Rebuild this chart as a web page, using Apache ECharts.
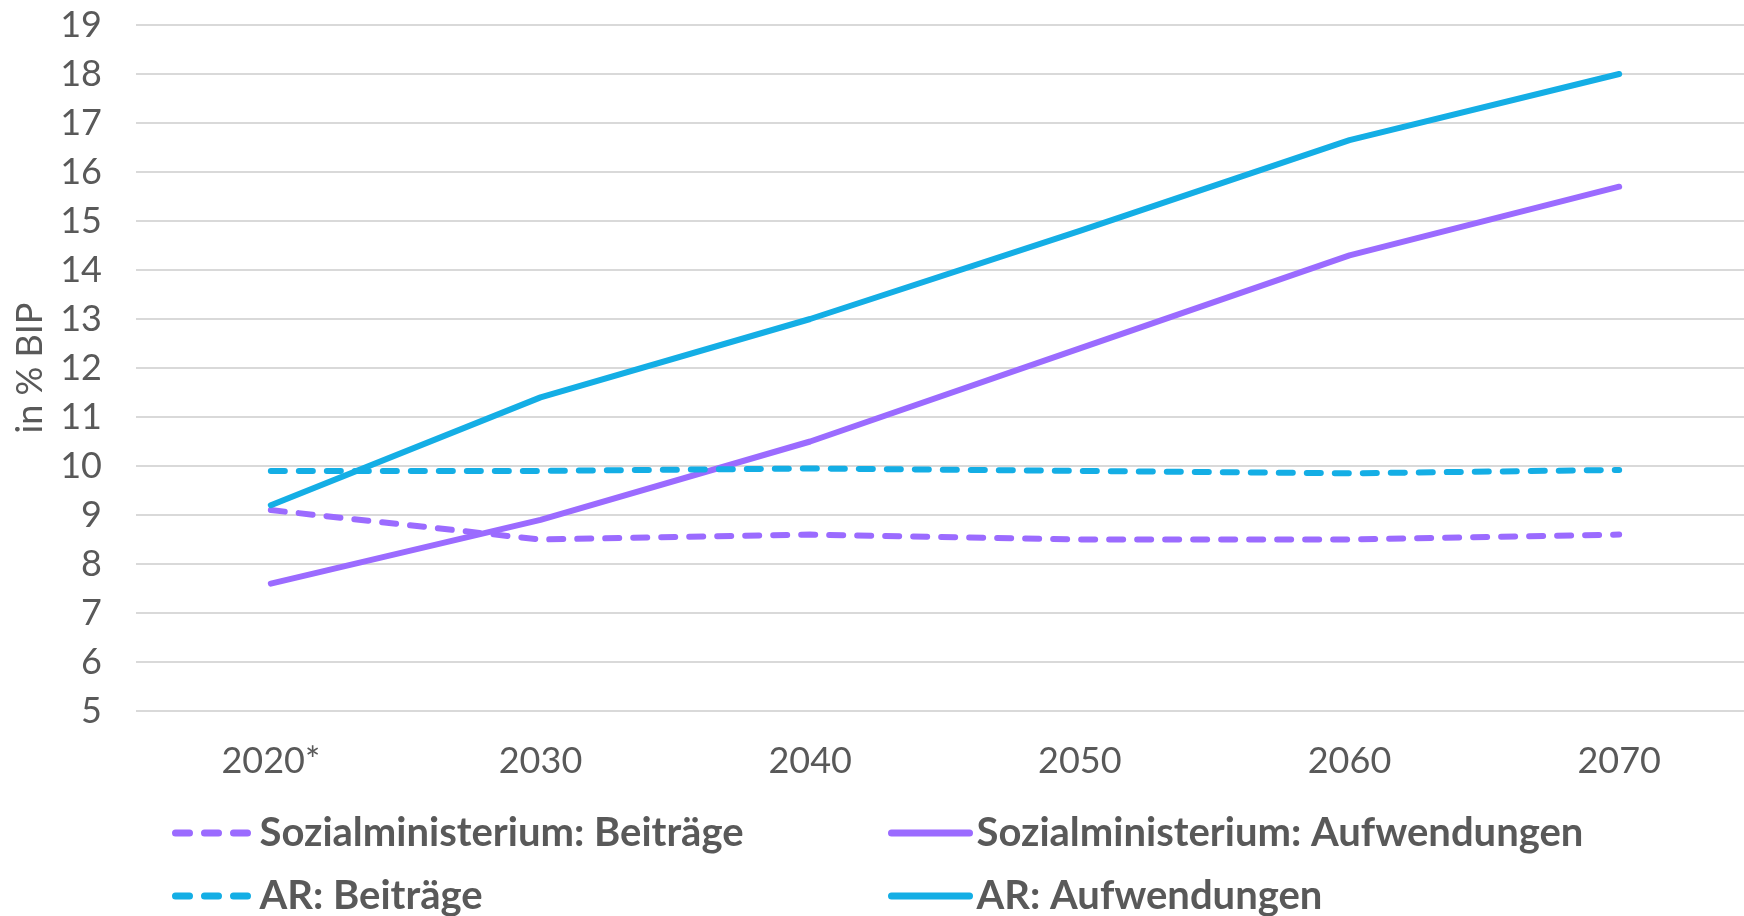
<!DOCTYPE html>
<html>
<head>
<meta charset="utf-8">
<script src="https://cdn.jsdelivr.net/npm/echarts@6/dist/echarts.min.js"></script>
<style>
  html, body { margin: 0; padding: 0; background: #ffffff; overflow: hidden; }
  /* the plot runs a little past the right edge of the page */
  #chart { width: 1754px; height: 916px; }
</style>
</head>
<body>
<div id="chart"></div>
<script>
// Beiträge und Aufwendungen in % des BIP, 2020–2070
const years = ['2020*', '2030', '2040', '2050', '2060', '2070'];
const sozBeitraege = [9.1, 8.5, 8.6, 8.5, 8.5, 8.6];
const sozAufwendungen = [7.6, 8.9, 10.5, 12.4, 14.3, 15.7];
const arBeitraege = [9.9, 9.9, 9.95, 9.9, 9.85, 9.92];
const arAufwendungen = [9.2, 11.4, 13.0, 14.8, 16.65, 18.0];

const PURPLE = '#9B6BFF';
const CYAN = '#14AEE5';
const TEXT = '#595959';
const FONT = 'Lato, "Open Sans", sans-serif';
const LINE_W = 6;
const DASH = [14, 14];
const LEGEND_DASH = [14, 15];

function lineSeries(name, data, color, dashed) {
  return {
    name: name,
    type: 'line',
    data: data,
    symbol: 'none',
    lineStyle: {
      color: color,
      width: LINE_W,
      type: dashed ? DASH : 'solid',
      cap: 'round',
      join: 'round'
    },
    itemStyle: { color: color }
  };
}

// one legend entry per box: two columns, two rows
function legendEntry(name, left, top, iconWidth, dashed, textPad) {
  return {
    left: left,
    top: top,
    padding: 0,
    itemWidth: iconWidth,
    itemHeight: 20,
    itemStyle: { opacity: 0 },
    textStyle: {
      color: TEXT,
      fontFamily: FONT,
      fontWeight: 'bold',
      fontSize: 40,
      lineHeight: 40,
      padding: [0, 0, 0, textPad]
    },
    data: [{
      name: name,
      lineStyle: dashed
        ? { type: LEGEND_DASH, width: 7, cap: 'round' }
        : { width: 7, cap: 'round' }
    }]
  };
}

const chart = echarts.init(document.getElementById('chart'), null, { renderer: 'canvas' });
chart.setOption({
  animation: false,
  backgroundColor: '#ffffff',
  grid: { left: 136, right: 0, top: 25, bottom: 205 },
  xAxis: {
    type: 'category',
    data: years,
    boundaryGap: true,
    axisLine: { show: false },
    axisTick: { show: false },
    axisLabel: { color: TEXT, fontFamily: FONT, fontSize: 36, margin: 32 }
  },
  yAxis: {
    type: 'value',
    min: 5,
    max: 19,
    interval: 1,
    name: 'in % BIP',
    nameLocation: 'middle',
    nameGap: 88,
    nameTextStyle: { color: TEXT, fontFamily: FONT, fontSize: 36 },
    axisLine: { show: false },
    axisTick: { show: false },
    axisLabel: { color: TEXT, fontFamily: FONT, fontSize: 36, margin: 34 },
    splitLine: { lineStyle: { color: '#d9d9d9', width: 2 } }
  },
  legend: [
    legendEntry('Sozialministerium: Beiträge', 172, 813, 74, true, 5),
    legendEntry('AR: Beiträge', 172, 876, 74, true, 5),
    legendEntry('Sozialministerium: Aufwendungen', 888, 813, 78, false, 2),
    legendEntry('AR: Aufwendungen', 888, 876, 78, false, 2)
  ],
  series: [
    lineSeries('Sozialministerium: Beiträge', sozBeitraege, PURPLE, true),
    lineSeries('Sozialministerium: Aufwendungen', sozAufwendungen, PURPLE, false),
    lineSeries('AR: Beiträge', arBeitraege, CYAN, true),
    lineSeries('AR: Aufwendungen', arAufwendungen, CYAN, false)
  ]
});
</script>
</body>
</html>
